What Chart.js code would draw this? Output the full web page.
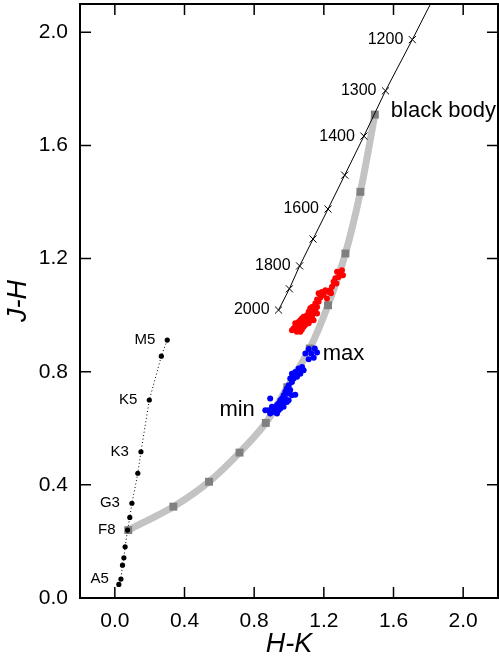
<!DOCTYPE html>
<html>
<head>
<meta charset="utf-8">
<script src="https://cdn.jsdelivr.net/npm/chart.js@4/dist/chart.umd.min.js"></script>
<style>
  html, body { margin: 0; padding: 0; background: #fff; }
  canvas { display: block; }
</style>
</head>
<body>
<canvas id="cc" width="499" height="663"></canvas>
<script>
// axis ticks
const xTicks = [0.0, 0.4, 0.8, 1.2, 1.6, 2.0];
const yTicks = [0.0, 0.4, 0.8, 1.2, 1.6, 2.0];

// thin black line with temperatures (last point only runs the line out of the frame)
const tempX = [0.940, 1.002, 1.061, 1.138, 1.224, 1.320, 1.430, 1.554, 1.708, 1.87];
const tempY = [1.018, 1.093, 1.174, 1.269, 1.375, 1.495, 1.633, 1.793, 1.974, 2.17];
const tempLabels = ['2000', '', '1800', '', '1600', '', '1400', '1300', '1200', ''];

// thick grey curve with squares
const greyX = [0.077, 0.336, 0.541, 0.716, 0.867, 0.990, 1.119, 1.224, 1.324, 1.410, 1.493];
const greyY = [0.240, 0.323, 0.411, 0.514, 0.619, 0.745, 0.882, 1.035, 1.218, 1.436, 1.709];

// stellar sequence
const starX = [0.023, 0.035, 0.044, 0.052, 0.059, 0.073, 0.086, 0.098, 0.132, 0.150, 0.198, 0.267, 0.301];
const starY = [0.048, 0.067, 0.116, 0.142, 0.181, 0.240, 0.285, 0.335, 0.441, 0.517, 0.700, 0.855, 0.912];
const starLabels = ['', 'A5', '', '', '', 'F8', '', 'G3', '', 'K3', 'K5', '', 'M5'];

// red points
const redX = [1.304, 1.295, 1.276, 1.310, 1.285, 1.266, 1.256, 1.272, 1.247, 1.237, 1.228, 1.241, 1.209, 1.189,
  1.170, 1.199, 1.180, 1.161, 1.218, 1.170, 1.151, 1.141, 1.161, 1.132, 1.151, 1.122, 1.141, 1.113, 1.093,
  1.103, 1.132, 1.084, 1.099, 1.122, 1.074, 1.093, 1.065, 1.084, 1.055, 1.074, 1.036, 1.045, 1.065, 1.017,
  1.088, 1.113, 1.141, 1.161, 1.055, 1.065, 1.103, 1.084, 1.113, 1.045, 1.026, 1.132, 1.074, 1.122, 1.036];
const redY = [1.159, 1.147, 1.153, 1.141, 1.135, 1.130, 1.118, 1.112, 1.100, 1.088, 1.082, 1.077, 1.088, 1.082,
  1.077, 1.071, 1.062, 1.055, 1.059, 1.047, 1.041, 1.029, 1.029, 1.018, 1.018, 1.006, 1.006, 1.000, 0.994,
  0.988, 0.994, 0.982, 0.976, 0.982, 0.971, 0.965, 0.965, 0.959, 0.953, 0.949, 0.959, 0.941, 0.941, 0.947,
  0.971, 0.971, 0.982, 1.006, 0.976, 0.982, 1.000, 0.994, 1.012, 0.959, 0.953, 1.029, 0.988, 1.024, 0.971];

// blue points
const blueX = [1.113, 1.148, 1.161, 1.128, 1.142, 1.113, 1.094, 1.075, 1.055, 1.084, 1.065, 1.036, 1.017, 1.027,
  1.046, 1.007, 1.017, 0.998, 0.988, 1.007, 0.979, 0.998, 1.017, 1.036, 0.969, 0.960, 0.979, 0.950, 0.969,
  0.988, 0.940, 0.960, 0.931, 0.950, 0.921, 0.902, 0.892, 0.940, 0.911, 0.892, 0.883, 0.864, 0.931, 0.969, 0.998];
const blueY = [0.880, 0.882, 0.868, 0.864, 0.849, 0.844, 0.864, 0.817, 0.811, 0.805, 0.793, 0.799, 0.793, 0.776,
  0.782, 0.776, 0.764, 0.752, 0.741, 0.735, 0.729, 0.723, 0.717, 0.719, 0.717, 0.705, 0.705, 0.699, 0.693,
  0.693, 0.688, 0.682, 0.682, 0.670, 0.670, 0.676, 0.705, 0.664, 0.658, 0.652, 0.664, 0.664, 0.652, 0.676, 0.699];

const FONT = "'Liberation Sans', Arial, Helvetica, sans-serif";
const PAD_TOP = 4, PAD_RIGHT = 1;

const pts = (xs, ys) => xs.map((x, i) => ({ x: x, y: ys[i] }));

// no extra room for half tick labels
const noPad = s => { s.paddingTop = 0; s.paddingBottom = 0; s.paddingLeft = 0; s.paddingRight = 0; };

// pin the plot frame to the top / right padding, then let the scales recompute
const pinArea = {
  id: 'pinArea',
  afterLayout(chart) {
    const a = chart.chartArea, x = chart.scales.x, y = chart.scales.y;
    a.top = PAD_TOP;
    a.right = chart.width - PAD_RIGHT;
    a.width = a.right - a.left;
    a.height = a.bottom - a.top;
    x.right = a.right; x.width = a.width; x.configure();
    y.top = a.top; y.height = a.height; y.configure();
  }
};

// frame with inward ticks on all four sides
const framePlugin = {
  id: 'frame',
  afterDatasetsDraw(chart) {
    const { ctx, chartArea: a, scales } = chart;
    ctx.save();
    ctx.strokeStyle = '#000';
    ctx.lineWidth = 2;
    ctx.strokeRect(a.left, a.top, a.right - a.left, a.bottom - a.top);
    ctx.lineWidth = 1.5;
    ctx.beginPath();
    xTicks.forEach(v => {
      const px = scales.x.getPixelForValue(v);
      ctx.moveTo(px, a.bottom); ctx.lineTo(px, a.bottom - 11);
      ctx.moveTo(px, a.top); ctx.lineTo(px, a.top + 11);
    });
    yTicks.forEach(v => {
      const py = scales.y.getPixelForValue(v);
      ctx.moveTo(a.left, py); ctx.lineTo(a.left + 11, py);
      ctx.moveTo(a.right, py); ctx.lineTo(a.right - 11, py);
    });
    ctx.stroke();
    ctx.restore();
  }
};

// text labels next to the marks
const labelPlugin = {
  id: 'labels',
  afterDatasetsDraw(chart) {
    const { ctx, scales } = chart;
    const X = v => scales.x.getPixelForValue(v);
    const Y = v => scales.y.getPixelForValue(v);
    ctx.save();
    ctx.fillStyle = '#000';
    ctx.textBaseline = 'middle';
    ctx.textAlign = 'right';
    ctx.font = '16px ' + FONT;
    tempLabels.forEach((t, i) => { if (t) ctx.fillText(t, X(tempX[i]) - 9, Y(tempY[i])); });
    ctx.font = '15px ' + FONT;
    starLabels.forEach((t, i) => { if (t) ctx.fillText(t, X(starX[i]) - 12, Y(starY[i])); });
    ctx.font = '22px ' + FONT;
    const g = greyX.length - 1;
    ctx.textAlign = 'left';
    ctx.fillText('black body', X(greyX[g]) + 16, Y(greyY[g]) - 4);
    ctx.fillText('max', X(greyX[6]) + 13, Y(greyY[6]) + 5);
    ctx.textAlign = 'right';
    ctx.fillText('min', X(greyX[4]) - 11, Y(greyY[4]) - 13);
    ctx.restore();
  }
};

new Chart(document.getElementById('cc'), {
  type: 'scatter',
  data: {
    datasets: [
      {
        data: pts(redX, redY),
        backgroundColor: '#ff0000',
        pointRadius: 3,
        pointBorderWidth: 0,
        order: 1
      },
      {
        data: pts(blueX, blueY),
        backgroundColor: '#0000ff',
        pointRadius: 3,
        pointBorderWidth: 0,
        order: 1
      },
      {
        data: pts(tempX, tempY),
        showLine: true,
        borderColor: '#000',
        borderWidth: 1,
        pointStyle: 'crossRot',
        pointRadius: tempX.map((_, i) => i === tempX.length - 1 ? 0 : 5),
        pointBorderColor: '#000',
        pointBorderWidth: 1,
        order: 2
      },
      {
        data: pts(starX, starY),
        showLine: true,
        borderColor: '#000',
        borderWidth: 1,
        borderDash: [1, 2.5],
        backgroundColor: '#000',
        pointRadius: 2.6,
        pointBorderWidth: 0,
        order: 2
      },
      {
        data: pts(greyX, greyY),
        showLine: true,
        borderColor: '#c3c3c3',
        borderWidth: 7,
        tension: 0.3,
        pointStyle: 'rect',
        pointRadius: 5.6,
        backgroundColor: '#808080',
        pointBorderWidth: 0,
        order: 3
      }
    ]
  },
  options: {
    responsive: false,
    animation: false,
    layout: { padding: { top: PAD_TOP, right: PAD_RIGHT, left: 0, bottom: 0 } },
    plugins: { legend: { display: false }, tooltip: { enabled: false } },
    scales: {
      x: {
        type: 'linear',
        min: -0.2,
        max: 2.2,
        afterBuildTicks: s => { s.ticks = xTicks.map(v => ({ value: v })); },
        afterFit: s => { s.height = 65; noPad(s); },
        grid: { display: false, drawTicks: false },
        border: { display: false },
        ticks: {
          padding: 11,
          color: '#000',
          font: { family: FONT, size: 21 },
          callback: v => v.toFixed(1),
          maxRotation: 0
        },
        title: {
          display: true,
          text: 'H-K',
          color: '#000',
          font: { family: FONT, size: 27, style: 'italic' },
          padding: { top: 0, bottom: 2 }
        }
      },
      y: {
        type: 'linear',
        min: 0,
        max: 2.1,
        afterBuildTicks: s => { s.ticks = yTicks.map(v => ({ value: v })); },
        afterFit: s => { s.width = 80; noPad(s); },
        grid: { display: false, drawTicks: false },
        border: { display: false },
        ticks: {
          padding: 12,
          color: '#000',
          font: { family: FONT, size: 21 },
          callback: v => v.toFixed(1)
        },
        title: {
          display: true,
          text: 'J-H',
          color: '#000',
          font: { family: FONT, size: 27, style: 'italic' },
          padding: { top: 2, bottom: 0 }
        }
      }
    }
  },
  plugins: [pinArea, framePlugin, labelPlugin]
});
</script>
</body>
</html>
